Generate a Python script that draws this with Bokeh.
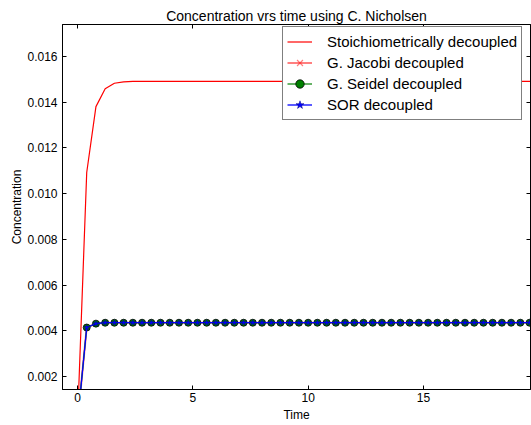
from bokeh.plotting import figure
from bokeh.models import (Range1d, FixedTicker, PrintfTickFormatter, LinearAxis,
                          CustomJSTickFormatter, Legend, LegendItem)
from bokeh.embed import file_html
from bokeh.resources import INLINE

# ---- data ----
time = [0.0, 0.4, 0.8, 1.2, 1.6, 2.0, 2.4, 2.8, 3.2, 3.6, 4.0, 4.4, 4.8, 5.2,
        5.6, 6.0, 6.4, 6.8, 7.2, 7.6, 8.0, 8.4, 8.8, 9.2, 9.6, 10.0, 10.4,
        10.8, 11.2, 11.6, 12.0, 12.4, 12.8, 13.2, 13.6, 14.0, 14.4, 14.8,
        15.2, 15.6, 16.0, 16.4, 16.8, 17.2, 17.6, 18.0, 18.4, 18.8, 19.2,
        19.6, 20.0]

stoich = [0.0, 0.01093, 0.01381, 0.01459, 0.01483, 0.01489, 0.01491, 0.01491,
          0.01491, 0.01491, 0.01491, 0.01491, 0.01491, 0.01491, 0.01491,
          0.01491, 0.01491, 0.01491, 0.01491, 0.01491, 0.01491, 0.01491,
          0.01491, 0.01491, 0.01491, 0.01491, 0.01491, 0.01491, 0.01491,
          0.01491, 0.01491, 0.01491, 0.01491, 0.01491, 0.01491, 0.01491,
          0.01491, 0.01491, 0.01491, 0.01491, 0.01491, 0.01491, 0.01491,
          0.01491, 0.01491, 0.01491, 0.01491, 0.01491, 0.01491, 0.01491,
          0.01491]

jacobi = [0.0, 0.00415, 0.00432, 0.00436, 0.00436, 0.00436, 0.00436, 0.00436,
          0.00436, 0.00436, 0.00436, 0.00436, 0.00436, 0.00436, 0.00436,
          0.00436, 0.00436, 0.00436, 0.00436, 0.00436, 0.00436, 0.00436,
          0.00436, 0.00436, 0.00436, 0.00436, 0.00436, 0.00436, 0.00436,
          0.00436, 0.00436, 0.00436, 0.00436, 0.00436, 0.00436, 0.00436,
          0.00436, 0.00436, 0.00436, 0.00436, 0.00436, 0.00436, 0.00436,
          0.00436, 0.00436, 0.00436, 0.00436, 0.00436, 0.00436, 0.00436,
          0.00436]

seidel = [0.0, 0.00415, 0.00432, 0.00436, 0.00436, 0.00436, 0.00436, 0.00436,
          0.00436, 0.00436, 0.00436, 0.00436, 0.00436, 0.00436, 0.00436,
          0.00436, 0.00436, 0.00436, 0.00436, 0.00436, 0.00436, 0.00436,
          0.00436, 0.00436, 0.00436, 0.00436, 0.00436, 0.00436, 0.00436,
          0.00436, 0.00436, 0.00436, 0.00436, 0.00436, 0.00436, 0.00436,
          0.00436, 0.00436, 0.00436, 0.00436, 0.00436, 0.00436, 0.00436,
          0.00436, 0.00436, 0.00436, 0.00436, 0.00436, 0.00436, 0.00436,
          0.00436]

sor = [0.0, 0.00415, 0.00432, 0.00436, 0.00436, 0.00436, 0.00436, 0.00436,
       0.00436, 0.00436, 0.00436, 0.00436, 0.00436, 0.00436, 0.00436,
       0.00436, 0.00436, 0.00436, 0.00436, 0.00436, 0.00436, 0.00436,
       0.00436, 0.00436, 0.00436, 0.00436, 0.00436, 0.00436, 0.00436,
       0.00436, 0.00436, 0.00436, 0.00436, 0.00436, 0.00436, 0.00436,
       0.00436, 0.00436, 0.00436, 0.00436, 0.00436, 0.00436, 0.00436,
       0.00436, 0.00436, 0.00436, 0.00436, 0.00436, 0.00436, 0.00436,
       0.00436]

x_ticks = [0, 5, 10, 15]
y_ticks = [0.002, 0.004, 0.006, 0.008, 0.010, 0.012, 0.014, 0.016]

FONT = "Liberation Sans"

p = figure(width=531, height=425, output_backend="svg", toolbar_location=None,
           x_range=Range1d(-0.65, 19.64), y_range=Range1d(0.00144, 0.0174),
           title="Concentration vrs time using C. Nicholsen",
           min_border_left=62, min_border_right=1, min_border_top=24,
           min_border_bottom=36)

p.title.text_font = FONT
p.title.text_font_size = "14px"
p.title.text_font_style = "normal"
p.title.text_color = "black"
p.title.align = "center"
p.title.standoff = 1
p.title.offset = -8

p.xgrid.visible = False
p.ygrid.visible = False
p.outline_line_color = "black"
p.outline_line_width = 1
p.background_fill_color = "white"
p.border_fill_color = "white"


def style_axis(ax, ticks, labels=True):
    ax.ticker = FixedTicker(ticks=ticks)
    ax.major_tick_in = 4
    ax.major_tick_out = 0
    ax.minor_tick_line_color = None
    ax.major_tick_line_color = "black"
    ax.axis_line_color = "black"
    ax.major_label_text_font = FONT
    ax.major_label_text_font_size = "12px"
    ax.major_label_text_color = "black"
    ax.axis_label_text_font = FONT
    ax.axis_label_text_font_size = "12px"
    ax.axis_label_text_font_style = "normal"
    ax.axis_label_text_color = "black"
    if not labels:
        ax.formatter = CustomJSTickFormatter(code="return '';")
        ax.major_label_text_font_size = "0px"
        ax.major_label_standoff = 0


style_axis(p.xaxis[0], x_ticks)
p.xaxis[0].axis_label = "Time"
p.xaxis[0].major_label_standoff = 3
p.xaxis[0].axis_label_standoff = 3

style_axis(p.yaxis[0], y_ticks)
p.yaxis[0].axis_label = "Concentration"
p.yaxis[0].formatter = PrintfTickFormatter(format="%.3f")
p.yaxis[0].major_label_standoff = 5
p.yaxis[0].axis_label_standoff = 0

top_ax = LinearAxis()
style_axis(top_ax, x_ticks, labels=False)
p.add_layout(top_ax, "above")
right_ax = LinearAxis()
style_axis(right_ax, y_ticks, labels=False)
p.add_layout(right_ax, "right")

r_red = p.line(time, stoich, line_color="#ff0000", line_width=1.2)

r_jl = p.line(time, jacobi, line_color="#ff0000", line_alpha=0.5, line_width=2)
r_jm = p.scatter(time, jacobi, marker="x", size=7, line_color="#ff0000",
                 line_alpha=0.5, line_width=1.2)

r_gl = p.line(time, seidel, line_color="#008000", line_width=1.2)
r_gm = p.scatter(time, seidel, marker="circle", size=7, fill_color="#008000",
                 line_color="black", line_width=0.8)

r_bl = p.line(time, sor, line_color="#0000ff", line_width=1.3)
r_bm = p.scatter(time, sor, marker="star", size=6, fill_color="#0000ff",
                 line_color="#000080", line_width=0.5)

legend = Legend(items=[
    LegendItem(label="Stoichiometrically decoupled", renderers=[r_red]),
    LegendItem(label="G. Jacobi decoupled", renderers=[r_jl, r_jm]),
    LegendItem(label="G. Seidel decoupled", renderers=[r_gl, r_gm]),
    LegendItem(label="SOR decoupled", renderers=[r_bl, r_bm]),
], location=(220, 269))
legend.label_text_font = FONT
legend.label_text_font_size = "15px"
legend.label_text_color = "black"
legend.border_line_color = "black"
legend.border_line_width = 1
legend.background_fill_color = "white"
legend.background_fill_alpha = 1
legend.glyph_width = 25
legend.glyph_height = 21
legend.label_height = 21
legend.label_standoff = 15
legend.spacing = 0
legend.padding = 4
legend.margin = 0
p.add_layout(legend, "center")

open("out.html", "w").write(file_html(p, INLINE))
